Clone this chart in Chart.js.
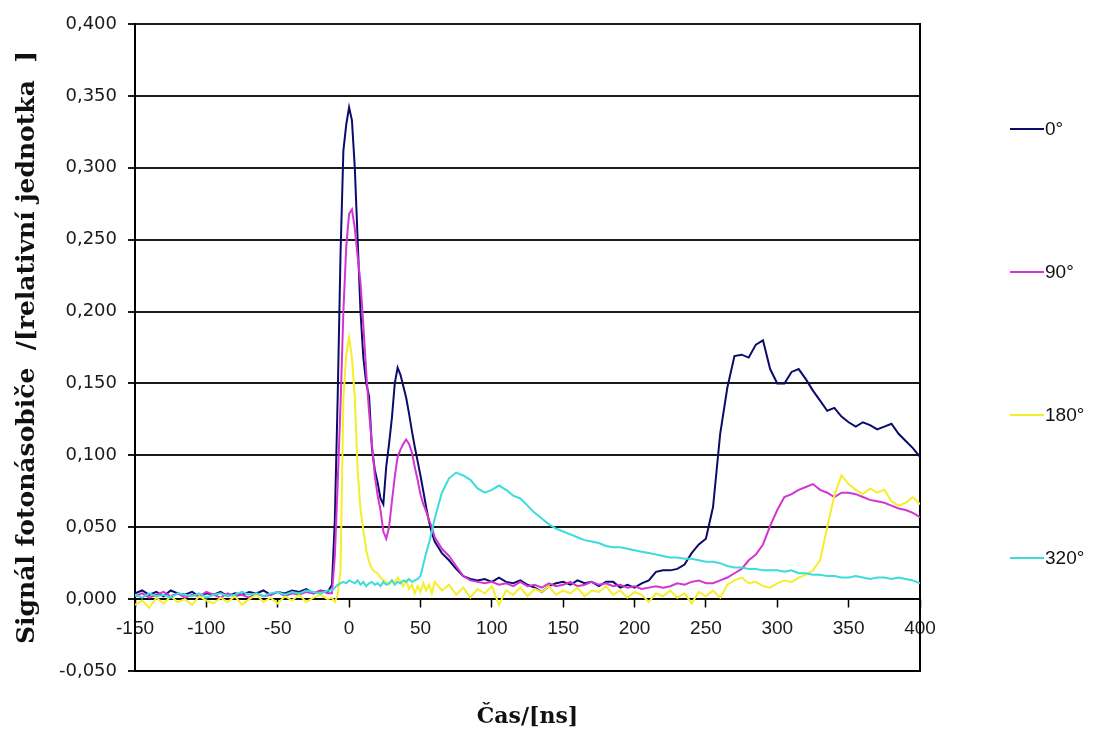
<!DOCTYPE html>
<html>
<head>
<meta charset="utf-8">
<script src="https://cdn.jsdelivr.net/npm/chart.js@4.4.1/dist/chart.umd.min.js"></script>
<style>
  html, body { margin: 0; padding: 0; background: #fff; }
  #wrap { position: relative; width: 1093px; height: 736px; }
  #legend { position: absolute; left: 1010px; top: 0; font: 19px "Liberation Sans", Arial, sans-serif; color: #111; }
  .item { position: absolute; left: 0; height: 22px; display: flex; align-items: center; white-space: nowrap; }
  .item .swatch { display: inline-block; width: 34px; height: 2px; margin-right: 1px; }
</style>
</head>
<body>
<div id="wrap">
  <canvas id="chart" width="1093" height="736"></canvas>
  <div id="legend"></div>
</div>
<script>
// time axis [ns]
const time = [
  -150, -145, -140, -135, -130, -125, -120, -115, -110, -105, -100, -95, -90, -85,
  -80, -75, -70, -65, -60, -55, -50, -45, -40, -35, -30, -25, -20, -15,
  -12, -10, -8, -6, -4, -2, 0, 2, 4, 6, 8, 10, 12, 14, 16, 18, 20, 22, 24, 26, 28,
  30, 32, 34, 36, 38, 40, 42, 44, 46, 48, 50, 52, 54, 56, 58, 60,
  65, 70, 75, 80, 85, 90, 95, 100, 105, 110, 115, 120, 125, 130, 135, 140, 145, 150,
  155, 160, 165, 170, 175, 180, 185, 190, 195, 200, 205, 210, 215, 220, 225, 230,
  235, 240, 245, 250, 255, 260, 265, 270, 275, 280, 285, 290, 295, 300, 305, 310,
  315, 320, 325, 330, 335, 340, 345, 350, 355, 360, 365, 370, 375, 380, 385, 390, 395, 400
];

const sig0 = [
  0.004, 0.006, 0.003, 0.005, 0.002, 0.006, 0.004, 0.003, 0.005, 0.002, 0.004, 0.003, 0.005, 0.002,
  0.004, 0.003, 0.005, 0.004, 0.006, 0.003, 0.005, 0.004, 0.006, 0.005, 0.007, 0.004, 0.006, 0.005,
  0.010, 0.055, 0.140, 0.240, 0.312, 0.330, 0.342, 0.333, 0.300, 0.250, 0.200, 0.168, 0.150, 0.141,
  0.105, 0.090, 0.081, 0.070, 0.066, 0.092, 0.108, 0.126, 0.150, 0.161, 0.156, 0.148, 0.140, 0.129,
  0.117, 0.106, 0.096, 0.086, 0.075, 0.064, 0.054, 0.046, 0.040,
  0.032, 0.027, 0.021, 0.016, 0.014, 0.013, 0.014, 0.012, 0.015, 0.012, 0.011, 0.013, 0.010, 0.008,
  0.005, 0.009, 0.011, 0.012, 0.010, 0.013, 0.011, 0.012, 0.009, 0.012, 0.012, 0.008, 0.010, 0.008,
  0.011, 0.013, 0.019, 0.020, 0.020, 0.021, 0.024, 0.032, 0.038, 0.042, 0.064, 0.115, 0.147, 0.169,
  0.170, 0.168, 0.177, 0.180, 0.160, 0.150, 0.150, 0.158, 0.160, 0.153, 0.145, 0.138, 0.131, 0.133,
  0.127, 0.123, 0.120, 0.123, 0.121, 0.118, 0.120, 0.122, 0.115, 0.110, 0.105, 0.099
];

const sig90 = [
  0.002, 0.004, 0.001, 0.003, 0.005, 0.002, 0.004, 0.001, 0.003, 0.002, 0.005, 0.003, 0.001, 0.004,
  0.002, 0.003, 0.001, 0.004, 0.002, 0.003, 0.005, 0.002, 0.004, 0.003, 0.005, 0.004, 0.006, 0.004,
  0.004, 0.030, 0.080, 0.135, 0.200, 0.245, 0.268, 0.271, 0.258, 0.238, 0.220, 0.190, 0.158, 0.130,
  0.108, 0.086, 0.072, 0.062, 0.047, 0.042, 0.050, 0.068, 0.085, 0.099, 0.104, 0.108, 0.111, 0.108,
  0.102, 0.092, 0.083, 0.073, 0.066, 0.061, 0.055, 0.050, 0.043,
  0.035, 0.030, 0.023, 0.016, 0.013, 0.012, 0.011, 0.012, 0.010, 0.011, 0.009, 0.012, 0.009, 0.010,
  0.008, 0.011, 0.009, 0.010, 0.012, 0.009, 0.010, 0.012, 0.010, 0.011, 0.009, 0.010, 0.008, 0.009,
  0.007, 0.008, 0.009, 0.008, 0.009, 0.011, 0.010, 0.012, 0.013, 0.011, 0.011, 0.013, 0.015, 0.018,
  0.021, 0.027, 0.031, 0.038, 0.051, 0.062, 0.071, 0.073, 0.076, 0.078, 0.080, 0.076, 0.074, 0.071,
  0.074, 0.074, 0.073, 0.071, 0.069, 0.068, 0.067, 0.065, 0.063, 0.062, 0.060, 0.057
];

const sig180 = [
  -0.004, -0.001, -0.006, 0.001, -0.003, 0.002, -0.002, 0.000, -0.004, 0.002, -0.001, -0.003, 0.001, -0.002,
  0.002, -0.004, 0.000, 0.003, -0.002, 0.001, -0.003, 0.002, -0.001, 0.003, -0.002, 0.001, 0.003, 0.000,
  0.001, -0.002, 0.003, 0.020, 0.140, 0.170, 0.182, 0.168, 0.140, 0.090, 0.062, 0.048, 0.034, 0.026,
  0.021, 0.019, 0.018, 0.015, 0.013, 0.012, 0.010, 0.013, 0.011, 0.015, 0.012, 0.009, 0.013, 0.007,
  0.010, 0.004, 0.009, 0.005, 0.011, 0.006, 0.010, 0.004, 0.012,
  0.006, 0.010, 0.003, 0.008, 0.001, 0.007, 0.004, 0.009, -0.004, 0.006, 0.003, 0.008, 0.002, 0.007,
  0.005, 0.009, 0.003, 0.006, 0.004, 0.008, 0.002, 0.006, 0.005, 0.009, 0.003, 0.006, 0.001, 0.005,
  0.003, -0.002, 0.004, 0.002, 0.006, 0.001, 0.004, -0.003, 0.005, 0.002, 0.006, 0.001, 0.010, 0.013,
  0.015, 0.011, 0.012, 0.009, 0.008, 0.011, 0.013, 0.012, 0.015, 0.017, 0.020, 0.027, 0.050, 0.072,
  0.086, 0.080, 0.076, 0.073, 0.077, 0.074, 0.076, 0.068, 0.065, 0.067, 0.071, 0.066
];

const sig320 = [
  0.003, 0.001, 0.004, 0.002, 0.003, 0.001, 0.004, 0.003, 0.002, 0.004, 0.001, 0.003, 0.004, 0.002,
  0.003, 0.005, 0.003, 0.004, 0.002, 0.004, 0.005, 0.003, 0.005, 0.004, 0.006, 0.005, 0.004, 0.006,
  0.006, 0.008, 0.010, 0.011, 0.012, 0.011, 0.013, 0.012, 0.011, 0.013, 0.010, 0.012, 0.009, 0.011,
  0.012, 0.010, 0.011, 0.009, 0.012, 0.010, 0.011, 0.013, 0.010, 0.012, 0.011, 0.013, 0.012, 0.014,
  0.012, 0.013, 0.014, 0.016, 0.024, 0.032, 0.039, 0.047, 0.056,
  0.074, 0.084, 0.088, 0.086, 0.083, 0.077, 0.074, 0.076, 0.079, 0.076, 0.072, 0.070, 0.065, 0.060,
  0.056, 0.052, 0.049, 0.047, 0.045, 0.043, 0.041, 0.040, 0.039, 0.037, 0.036, 0.036, 0.035, 0.034,
  0.033, 0.032, 0.031, 0.030, 0.029, 0.029, 0.028, 0.028, 0.027, 0.026, 0.026, 0.025, 0.023, 0.022,
  0.022, 0.021, 0.021, 0.020, 0.020, 0.020, 0.019, 0.020, 0.018, 0.018, 0.017, 0.017, 0.016, 0.016,
  0.015, 0.015, 0.016, 0.015, 0.014, 0.015, 0.015, 0.014, 0.015, 0.014, 0.013, 0.011
];

const seriesNames = ['0°', '90°', '180°', '320°'];
const seriesColors = ['#0c0c68', '#d236d2', '#f4ef2a', '#3cdcdc'];
const seriesValues = [sig0, sig90, sig180, sig320];

const xTicks = [-150, -100, -50, 0, 50, 100, 150, 200, 250, 300, 350, 400];
const yTicks = [-0.05, 0, 0.05, 0.1, 0.15, 0.2, 0.25, 0.3, 0.35, 0.4];

const datasets = seriesValues.map((vals, i) => ({
    label: seriesNames[i],
    data: time.map((t, j) => ({ x: t, y: vals[j] })),
    borderColor: seriesColors[i],
    borderWidth: 2,
    pointRadius: 0,
    tension: 0,
    fill: false,
    order: seriesValues.length - i   // last series drawn on top, like the original
}));

new Chart(document.getElementById('chart'), {
    type: 'line',
    data: { datasets },
    options: {
        responsive: false,
        animation: false,
        layout: { padding: { left: 0, right: 173, top: 24, bottom: 0 } },
        plugins: { legend: { display: false }, tooltip: { enabled: false } },
        scales: {
            x: {
                type: 'linear',
                min: -150, max: 400,
                position: { y: 0 },
                afterBuildTicks: s => { s.ticks = xTicks.map(v => ({ value: v })); },
                afterFit: s => { s.height = 0; },
                ticks: {
                    maxRotation: 0, autoSkip: false, padding: 10, color: '#1a1a1a',
                    font: { family: 'Liberation Sans', size: 19 }
                },
                grid: { drawOnChartArea: false, tickLength: 8, tickColor: '#000', tickWidth: 1.5 },
                border: { color: '#000', width: 1.5 }
            },
            x2: {
                type: 'linear',
                min: -150, max: 400,
                position: 'bottom',
                afterFit: s => { s.height = 65; },
                ticks: { display: false },
                grid: { display: false },
                border: { color: '#000', width: 2 },
                title: {
                    display: true, text: 'Čas/[ns]', color: '#111',
                    font: { family: 'DejaVu Serif', size: 22, weight: 'bold' },
                    padding: { top: 0, bottom: 6 }
                }
            },
            y: {
                min: -0.05, max: 0.4,
                afterBuildTicks: s => { s.ticks = yTicks.map(v => ({ value: v })); },
                afterFit: s => { s.width = 135; },
                ticks: {
                    padding: 11, color: '#1a1a1a',
                    font: { family: 'DejaVu Sans', size: 18 },
                    callback: v => v.toFixed(3).replace('.', ',')
                },
                grid: { color: '#1a1a1a', lineWidth: 2, tickLength: 7 },
                border: { color: '#000', width: 2 },
                title: {
                    display: true, text: 'Signál fotonásobiče  /[relativní jednotka  ]', color: '#111',
                    font: { family: 'DejaVu Serif', size: 25, weight: 'bold' },
                    padding: { top: 12, bottom: 0 }
                }
            },
            y2: {
                min: -0.05, max: 0.4,
                position: 'right',
                afterFit: s => { s.width = 0; },
                ticks: { display: false },
                grid: { drawOnChartArea: false, drawTicks: false },
                border: { color: '#000', width: 2 }
            }
        }
    }
});

// legend on the right, items spread over the plot height
const legend = document.getElementById('legend');
seriesNames.forEach((name, i) => {
    const item = document.createElement('div');
    item.className = 'item';
    item.style.top = (118 + i * 143) + 'px';
    item.innerHTML = '<span class="swatch" style="background:' + seriesColors[i] + '"></span>' + name;
    legend.appendChild(item);
});
</script>
</body>
</html>
